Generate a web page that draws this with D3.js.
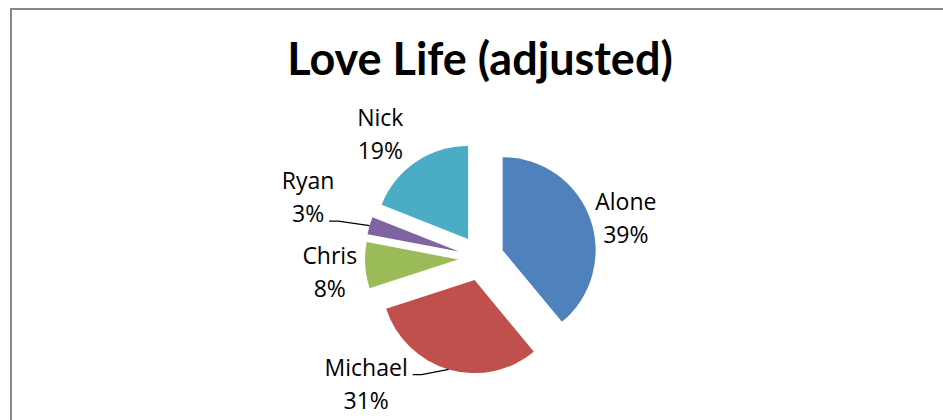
<!DOCTYPE html>
<html>
<head>
<meta charset="utf-8">
<script src="https://cdn.jsdelivr.net/npm/d3@7"></script>
<style>
  body { margin: 0; background: #fff; }
  text { font-family: "Open Sans", Lato, sans-serif; }
  text.title { font-family: Lato, "Open Sans", sans-serif; }
</style>
</head>
<body>
<svg id="chart" width="943" height="420"></svg>
<script>
const names = ["Alone", "Michael", "Chris", "Ryan", "Nick"];
const values = [39, 31, 8, 3, 19];
const colors = ["#4F81BD", "#C0504D", "#9BBB59", "#8064A2", "#4BACC6"];
const title = "Love Life (adjusted)";

// label placement: [angle deg clockwise from 12 o'clock, distance from pie centre], leader line?
const labelLayout = {
  Alone: [74.9, 150, false],
  Michael: [222.2, 171, true],
  Chris: [264.3, 152, false],
  Ryan: [289.1, 183, true],
  Nick: [320.7, 159, false]
};

const svg = d3.select("svg#chart");
const cx = 481, cy = 258, radius = 93, explode = 23;

// chart area border (runs off the right and bottom of the window)
svg.append("rect")
  .attr("x", 11).attr("y", 9)
  .attr("width", 1000).attr("height", 500)
  .attr("fill", "none")
  .attr("stroke", "#878787")
  .attr("stroke-width", 2);

svg.append("text")
  .attr("class", "title")
  .attr("x", 480).attr("y", 75)
  .attr("text-anchor", "middle")
  .style("font-weight", "bold")
  .style("font-size", "45px")
  .text(title);

const data = names.map((n, i) => ({ name: n, value: values[i], color: colors[i] }));

const pie = d3.pie().value(d => d.value).sort(null);
const arc = d3.arc().innerRadius(0).outerRadius(radius);
const arcs = pie(data);

const g = svg.append("g").attr("transform", `translate(${cx},${cy})`);

const dir = a => [Math.sin(a), -Math.cos(a)];

g.selectAll("path.slice")
  .data(arcs)
  .enter().append("path")
  .attr("class", "slice")
  .attr("d", arc)
  .attr("fill", d => d.data.color)
  .attr("transform", d => {
    const [ux, uy] = dir((d.startAngle + d.endAngle) / 2);
    return `translate(${ux * explode},${uy * explode})`;
  });

const labels = g.selectAll("g.label")
  .data(arcs)
  .enter().append("g")
  .attr("class", "label")
  .attr("transform", d => {
    const [a, r] = labelLayout[d.data.name];
    const [ux, uy] = dir(a * Math.PI / 180);
    return `translate(${ux * r},${uy * r})`;
  });

labels.append("text")
  .attr("class", "name")
  .attr("text-anchor", "middle")
  .attr("y", -9)
  .style("font-size", "23px")
  .attr("fill", "#000")
  .text(d => d.data.name);

labels.append("text")
  .attr("class", "pct")
  .attr("text-anchor", "middle")
  .attr("y", 24)
  .style("font-size", "23px")
  .attr("fill", "#000")
  .text(d => Math.round(d.value / d3.sum(values) * 100) + "%");

// leader lines for labels that sit away from their slice
labels.each(function(d) {
  const [a, r, leader] = labelLayout[d.data.name];
  if (!leader) return;
  const lab = d3.select(this);
  const [lx, ly] = dir(a * Math.PI / 180).map(v => v * r);
  const mid = (d.startAngle + d.endAngle) / 2;
  const [ux, uy] = dir(mid);
  const ex = ux * (explode + radius) - lx, ey = uy * (explode + radius) - ly;
  // attach at the line nearest the slice
  const t = ey > 0 ? lab.select("text.pct") : lab.select("text.name");
  const bb = t.node().getBBox();
  const sx = bb.x + bb.width + 5, sy = +t.attr("y") - 1;
  lab.append("path")
    .attr("d", `M${sx},${sy}L${sx + 9},${sy}L${ex},${ey}`)
    .attr("fill", "none")
    .attr("stroke", "#000")
    .attr("stroke-width", 1.3);
});
</script>
</body>
</html>
